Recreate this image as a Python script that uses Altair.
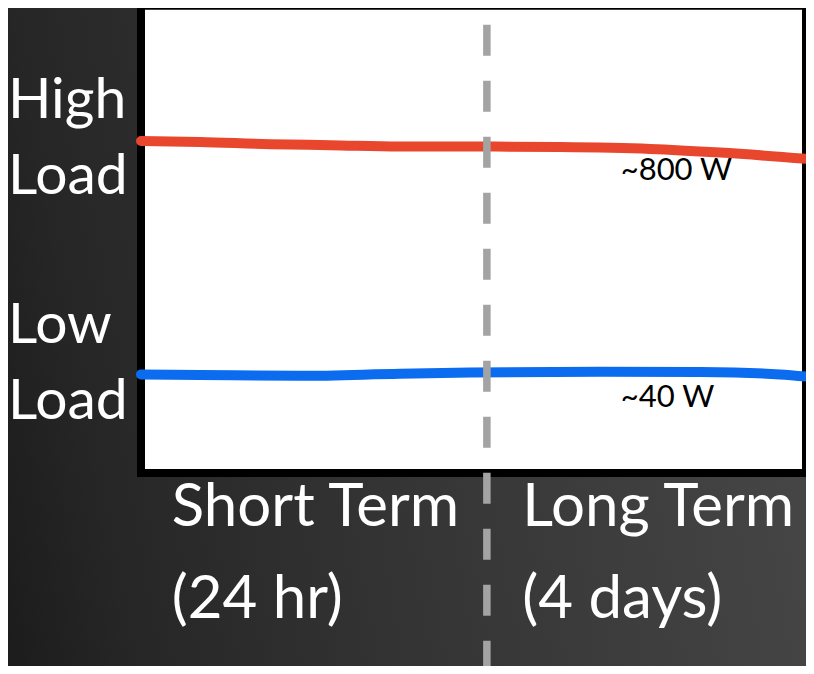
import altair as alt
import pandas as pd

# ---- data (x: 0-100 across the box, y: 0-100 up the box) ----
series_names = ["High Load", "Low Load"]
series_colors = ["#e8472e", "#0b6cf0"]

red_x = [0, 8.8, 19.3, 28.3, 38.7, 49.2, 62.6, 76.1, 86.6, 100]
red_y = [71.4, 71.2, 70.7, 70.5, 70.2, 70.2, 70.1, 69.7, 68.9, 67.5]

blue_x = [0, 8.8, 23.8, 38.7, 49.2, 68.6, 83.6, 95.5, 100]
blue_y = [21.2, 21.1, 20.9, 21.35, 21.6, 21.8, 21.7, 21.2, 20.65]

annotation_text = ["~800 W", "~40 W"]
annotation_x = [71.7, 71.7]
annotation_y = [63.0, 14.3]

load_label_lines = [["High", "Load"], ["Low", "Load"]]
load_label_pos = [76.24, 28.06]

term_label_lines = [["Short Term", "(24 hr)"], ["Long Term", "(4 days)"]]
term_label_pos = [4.6, 57.0]

divider_x = 51.7

# ---- tables ----
lines_df = pd.DataFrame({
    "series": [series_names[0]] * len(red_x) + [series_names[1]] * len(blue_x),
    "x": red_x + blue_x,
    "y": red_y + blue_y,
    "order": list(range(len(red_x))) + list(range(len(blue_x))),
})
ann_df = pd.DataFrame({"t": annotation_text, "x": annotation_x, "y": annotation_y})
load_df = pd.DataFrame({"t": ["\n".join(l) for l in load_label_lines], "y": load_label_pos})
term_df = pd.DataFrame({"t": ["\n".join(l) for l in term_label_lines], "x": term_label_pos})
one = pd.DataFrame({"k": [0]})

xscale = alt.Scale(domain=[0, 99.4], nice=False, zero=False)
yscale = alt.Scale(domain=[0, 100], nice=False, zero=False)

gradient = alt.LinearGradient(
    gradient="linear",
    x1=0, y1=1, x2=1, y2=0.85,
    stops=[
        alt.GradientStop(offset=0, color="#1c1c1c"),
        alt.GradientStop(offset=0.15, color="#262626"),
        alt.GradientStop(offset=0.5, color="#343434"),
        alt.GradientStop(offset=1, color="#454545"),
    ],
)

bg = alt.Chart(one).mark_rect(color=gradient, clip=False).encode(
    x=alt.value(-133), x2=alt.value(665), y=alt.value(-8), y2=alt.value(658)
)

frame = alt.Chart(one).mark_rect(
    fill="white", stroke="black", strokeWidth=8, clip=False
).encode(
    x=alt.XDatum(0, scale=xscale, axis=None),
    x2=alt.datum(99.4),
    y=alt.YDatum(0, scale=yscale, axis=None),
    y2=alt.datum(100.5),
)

lines = alt.Chart(lines_df).mark_line(
    strokeWidth=10, strokeCap="round", strokeJoin="round", interpolate="monotone", clip=False
).encode(
    x=alt.X("x:Q", scale=xscale, axis=None),
    y=alt.Y("y:Q", scale=yscale, axis=None),
    color=alt.Color("series:N", scale=alt.Scale(domain=series_names, range=series_colors), legend=None),
    order="order:Q",
)

notes = alt.Chart(ann_df).mark_text(
    align="left", baseline="alphabetic", font="Lato", fontSize=31, color="black", clip=False
).encode(
    x=alt.X("x:Q", scale=xscale, axis=None),
    y=alt.Y("y:Q", scale=yscale, axis=None),
    text="t:N",
)

left_labels = alt.Chart(load_df).mark_text(
    align="left", baseline="alphabetic", font="Lato", fontSize=57, color="white",
    lineBreak="\n", lineHeight=76, clip=False
).encode(
    x=alt.value(-133),
    y=alt.Y("y:Q", scale=yscale, axis=None),
    text="t:N",
)

bottom_labels = alt.Chart(term_df).mark_text(
    align="left", baseline="top", font="Lato", fontSize=60, color="white",
    lineBreak="\n", lineHeight=92, clip=False
).encode(
    x=alt.X("x:Q", scale=xscale, axis=None),
    y=alt.value(470.5),
    text="t:N",
)

divider = alt.Chart(one).mark_rule(
    color="#a3a3a3", strokeWidth=7.5, strokeDash=[31, 25], strokeDashOffset=30, clip=False
).encode(
    x=alt.XDatum(divider_x, scale=xscale, axis=None),
    y=alt.YDatum(102, scale=yscale, axis=None),
    y2=alt.datum(-44),
)

chart = alt.layer(bg, frame, lines, notes, left_labels, bottom_labels, divider).properties(
    width=665,
    height=465,
    autosize=alt.AutoSizeParams(type="none"),
    padding={"left": 133, "top": 0, "right": 0, "bottom": 193},
    background="#2a2a2a",
).configure_view(stroke="transparent")

chart.save("out.html", embed_options={"renderer": "svg", "actions": False})
